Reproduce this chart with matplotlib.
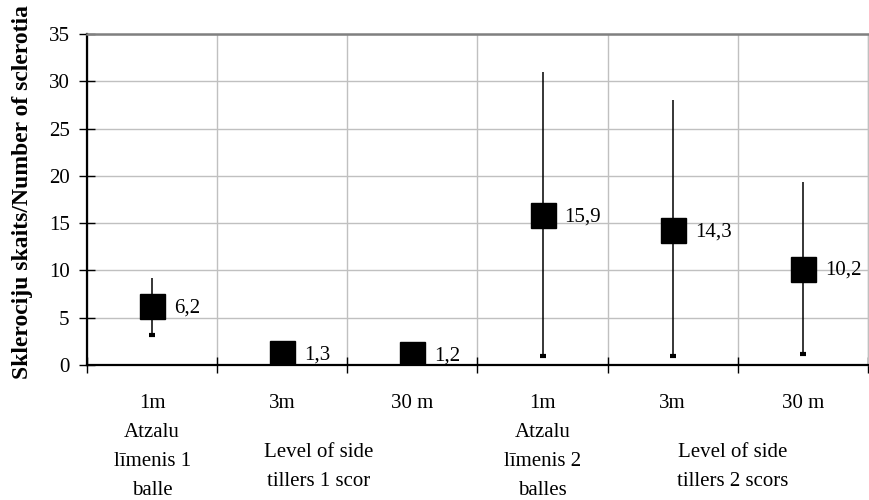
import matplotlib
matplotlib.use("Agg")
import matplotlib.pyplot as plt

plt.rcParams['font.family'] = ['Liberation Serif', 'DejaVu Serif']

# Sclerotia counts per sampling distance: mean (close), minimum and maximum
categories = ["1m", "3m", "30 m", "1m", "3m", "30 m"]
means = [6.2, 1.3, 1.2, 15.9, 14.3, 10.2]
lows = [3.2, 1.3, 1.2, 0.9, 0.9, 1.2]
highs = [9.2, 1.3, 1.2, 31.0, 28.0, 19.3]

group_labels = ["Atzalu\nlīmenis 1\nballe", "Level of side\ntillers 1 scor",
                "Atzalu\nlīmenis 2\nballes", "Level of side\ntillers 2 scors"]
group_x = [0, 1.28, 3, 4.46]
group_drop = [58, 78, 58, 78]

y_ticks = [0, 5, 10, 15, 20, 25, 30, 35]

FS = 15

fig = plt.figure(figsize=(8.7, 5.0), dpi=100)
ax = fig.add_axes([87 / 870, 135 / 500, 781 / 870, 331 / 500])

x = list(range(len(categories)))

# high-low range lines
ax.vlines(x, lows, highs, colors='black', linewidth=1.1, zorder=3)
# low marks
ax.plot(x, lows, linestyle='none', marker='_', markersize=5,
        markeredgewidth=3, color='black', zorder=4)
# mean markers
ax.plot(x, means, linestyle='none', marker='s', markersize=18,
        color='black', zorder=5)

for xi, v in zip(x, means):
    ax.annotate(f"{v:.1f}".replace('.', ','), xy=(xi, v), xytext=(22, -2),
                textcoords='offset pixels', ha='left', va='center',
                fontsize=FS, zorder=6)

ax.set_xlim(-0.5, len(categories) - 0.5)
ax.set_ylim(0, 35)
ax.set_yticks(y_ticks)
ax.set_yticklabels([str(t) for t in y_ticks], fontsize=FS)

# category boundaries carry ticks and vertical gridlines
boundaries = [i - 0.5 for i in range(len(categories) + 1)]
ax.set_xticks(boundaries)
ax.set_xticklabels([])
ax.set_xticks(x, minor=True)
ax.set_xticklabels(categories, minor=True, fontsize=FS)
ax.tick_params(axis='x', which='minor', length=0, pad=21)
ax.tick_params(axis='x', which='major', direction='inout', length=11,
               width=1, color='black')
ax.tick_params(axis='y', direction='inout', length=11, width=1,
               color='black', pad=7)

ax.grid(True, which='major', color='#c0c0c0', linewidth=1)
ax.set_axisbelow(True)

for side in ['left', 'bottom']:
    ax.spines[side].set_color('black')
    ax.spines[side].set_linewidth(1.6)
ax.spines['top'].set_color('#808080')
ax.spines['top'].set_linewidth(1.8)
ax.spines['right'].set_color('#c0c0c0')
ax.spines['right'].set_linewidth(1)

for lbl, gx, drop in zip(group_labels, group_x, group_drop):
    ax.annotate(lbl, xy=(gx, 0), xycoords=('data', 'axes fraction'),
                xytext=(0, -drop), textcoords='offset pixels',
                ha='center', va='top', fontsize=FS, linespacing=1.7,
                annotation_clip=False)

ax.set_ylabel("Sklerociju skaits/Number of sclerotia", fontsize=17,
              fontweight='bold')
ax.yaxis.set_label_coords(-0.069, 0.523)

fig.savefig("out.png", dpi=100)
